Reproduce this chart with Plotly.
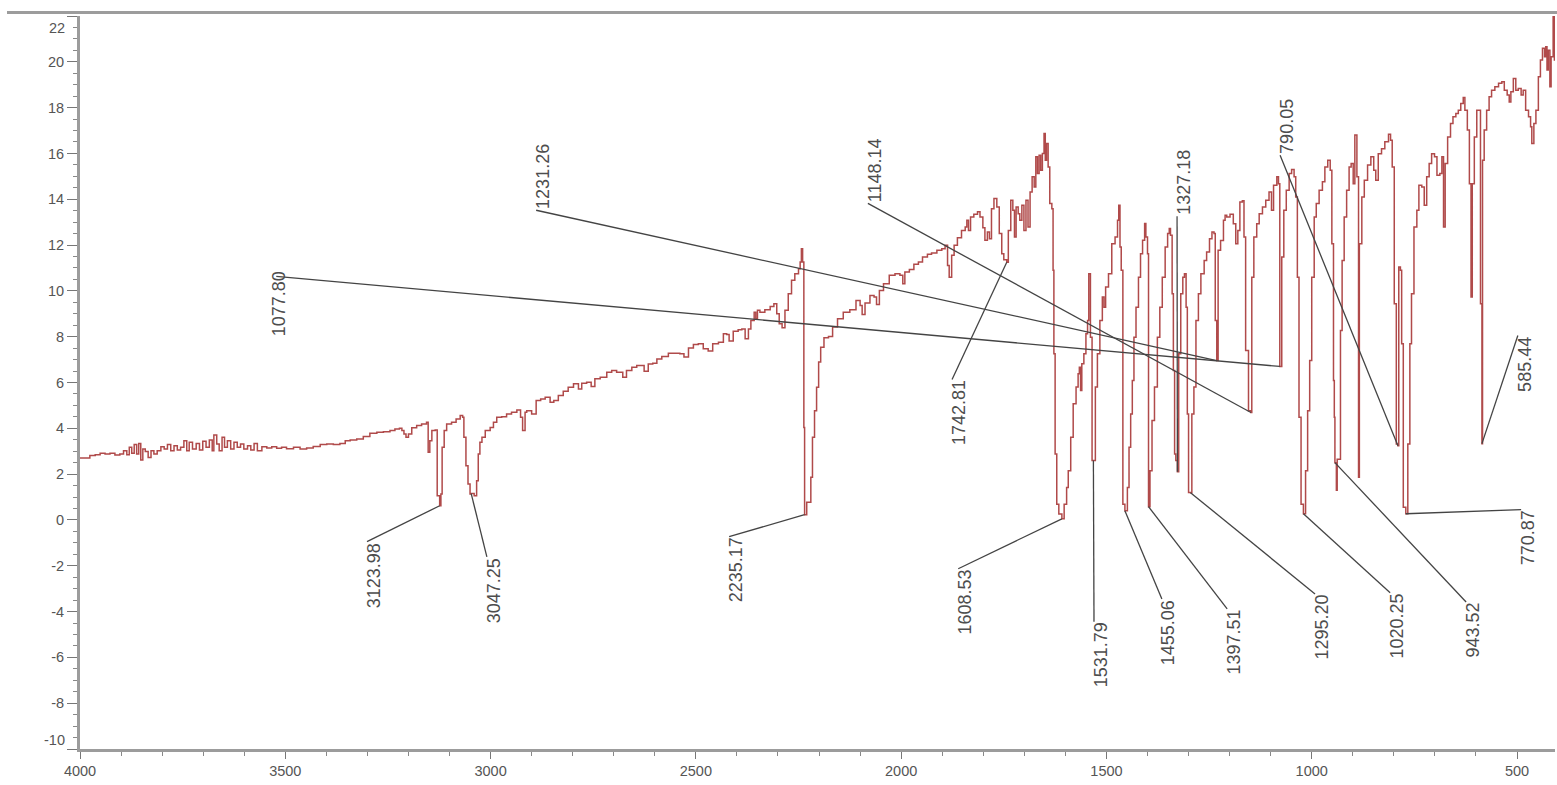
import plotly.graph_objects as go

FONT = "Arial, Liberation Sans, sans-serif"

# IR spectrum: wavenumber (cm-1) and signal
wavenumber = [
    4000, 3988, 3976, 3963, 3951, 3939, 3927, 3915, 3903, 3894, 3886, 3880, 3874, 3868, 3862, 3857,
    3852, 3847, 3841, 3834, 3827, 3820, 3812, 3803, 3795, 3787, 3779, 3771, 3763, 3755, 3747, 3740,
    3734, 3726, 3717, 3709, 3701, 3693, 3685, 3678, 3674, 3667, 3661, 3654, 3648, 3641, 3633, 3625,
    3617, 3609, 3601, 3592, 3584, 3576, 3568, 3557, 3545, 3533, 3521, 3509, 3497, 3480, 3464, 3448,
    3432, 3415, 3399, 3383, 3367, 3354, 3342, 3326, 3310, 3294, 3277, 3261, 3245, 3233, 3222,
    3216, 3211, 3206, 3200, 3192, 3180, 3168, 3156, 3152, 3148, 3143, 3135, 3130, 3123.98, 3121, 3118,
    3113, 3107, 3095, 3084, 3074, 3068, 3065, 3060, 3055, 3050, 3047.25, 3040, 3034, 3030, 3026, 3021,
    3013, 3001, 2993, 2985, 2973, 2961, 2949, 2936, 2927, 2922, 2916, 2912, 2900, 2889, 2878, 2867,
    2855, 2846, 2835, 2823, 2811, 2798, 2786, 2778, 2766, 2755, 2746, 2733, 2717, 2705, 2693, 2678,
    2669, 2656, 2644, 2636, 2626, 2616, 2605, 2595, 2583, 2567, 2551, 2539, 2529, 2518, 2506, 2494,
    2482, 2470, 2459, 2445, 2433, 2425, 2419, 2409, 2397, 2388, 2380, 2372, 2366, 2358, 2354, 2350,
    2344, 2332, 2319, 2310, 2303, 2297, 2290, 2283, 2275, 2267, 2259, 2250, 2246, 2243, 2240, 2237,
    2235.17, 2230, 2224, 2220, 2216, 2211, 2206, 2201, 2196, 2188, 2177, 2167, 2155, 2141, 2125, 2110,
    2100, 2095, 2088, 2076, 2066, 2060, 2053, 2043, 2029, 2015,
    2003, 1996, 1991, 1980, 1969, 1958, 1948, 1936, 1926, 1913, 1901, 1893, 1887, 1883, 1877, 1871,
    1863, 1853, 1844, 1840, 1836, 1831, 1823, 1814, 1808, 1801, 1796, 1790, 1785, 1780, 1774, 1767,
    1761, 1755, 1750, 1742.81, 1739, 1733, 1728, 1724, 1720, 1715, 1711, 1706, 1701, 1696, 1691, 1686,
    1681, 1676, 1672, 1668, 1664, 1660, 1656, 1652, 1649, 1646, 1642, 1638, 1633, 1630, 1628, 1625,
    1621, 1616, 1608.53, 1603, 1597, 1593, 1587, 1581, 1574, 1569, 1566, 1563, 1560, 1555, 1550, 1546,
    1543, 1539, 1535, 1531.79, 1527, 1522, 1516, 1510, 1506, 1502, 1495, 1487, 1479, 1473, 1470, 1467,
    1464, 1460, 1455.06, 1449, 1445, 1441, 1437, 1433, 1428, 1422, 1417, 1412, 1407, 1404, 1400, 1397.51,
    1394, 1389, 1383, 1376, 1370, 1364, 1357, 1351, 1347, 1344, 1340, 1337, 1334, 1331, 1327.18, 1324,
    1319, 1314, 1310, 1306, 1303, 1300, 1295.20, 1292, 1287, 1282, 1276, 1270, 1262, 1256, 1249, 1243,
    1238, 1235, 1231.26, 1228, 1222, 1215, 1211,
    1207, 1199, 1191, 1185, 1180, 1175, 1169, 1165, 1161, 1154, 1148.14, 1146, 1141, 1134, 1128, 1120,
    1112, 1104, 1098, 1093, 1085, 1081, 1077.80, 1073, 1068, 1062, 1055, 1049, 1043, 1039, 1035, 1031,
    1026, 1020.25, 1015, 1010, 1005, 1000, 994, 989, 982, 974, 968, 961, 955, 951, 947, 945,
    943.52, 940, 938, 930, 926, 921, 915, 909, 904, 899, 895, 890, 886, 884, 878, 872,
    864, 856, 849, 844, 838, 830, 822, 813, 808, 804, 799, 794, 790.05, 788, 784, 781,
    777, 770.87, 766, 761, 757, 751, 744, 739, 732, 726, 720, 714, 708, 701, 695, 688,
    683, 679, 675, 669, 662, 656, 649, 643, 637, 631, 627, 621, 616, 612, 609, 604,
    598, 592, 589, 585.44, 584, 580, 574, 568, 562, 554, 545, 537, 531, 524, 519, 515,
    509, 503, 497, 490, 485, 479, 472, 467, 464, 459, 454, 448, 443, 438, 433, 430,
    427, 424, 420, 417, 412, 409, 405,
]

signal = [
    2.70, 2.70, 2.81, 2.85, 2.91, 2.88, 2.91, 2.84, 2.88, 3.02, 2.85, 3.17, 2.91, 3.29, 2.88, 3.34,
    2.62, 3.10, 2.99, 2.73, 3.02, 2.88, 3.02, 3.20, 3.10, 3.29, 3.02, 3.24, 3.05, 3.17, 3.46, 3.02,
    3.39, 3.10, 3.34, 3.05, 3.43, 3.17, 3.49, 3.02, 3.71, 3.32, 3.02, 3.61, 3.17, 3.46, 3.10, 3.39,
    3.17, 3.32, 3.10, 3.24, 3.05, 3.34, 3.02, 3.20, 3.14, 3.20, 3.13, 3.17, 3.11, 3.17, 3.10, 3.14,
    3.21, 3.29, 3.32, 3.29, 3.34, 3.46, 3.49, 3.53, 3.64, 3.78, 3.83, 3.85, 3.90, 3.97, 4.00,
    3.90, 3.75, 3.61, 3.75, 4.02, 4.12, 4.19, 4.26, 2.95, 3.46, 3.90, 3.93, 1.06, 0.62, 1.13, 3.17,
    3.90, 4.19, 4.26, 4.41, 4.56, 4.48, 3.61, 2.37, 1.57, 1.13, 1.15, 1.06, 1.71, 2.88, 3.39, 3.61,
    3.90, 4.04, 4.26, 4.48, 4.51, 4.63, 4.70, 4.80, 4.48, 3.90, 4.70, 4.77, 4.63, 5.21, 5.28, 5.36,
    5.14, 5.21, 5.43, 5.62, 5.79, 5.94, 5.72, 5.97, 6.01, 5.82, 6.16, 6.23, 6.45, 6.52, 6.45, 6.23,
    6.52, 6.67, 6.74, 6.74, 6.49, 6.81, 6.84, 7.03, 7.13, 7.28, 7.28, 7.25, 7.11, 7.51, 7.66, 7.69,
    7.47, 7.37, 7.69, 7.76, 8.13, 8.10, 7.81, 8.24, 8.30, 8.34, 7.91, 8.34, 8.71, 9.07, 8.78, 9.15,
    9.07, 9.18, 9.32, 9.44, 9.00, 8.56, 8.39, 9.15, 9.87, 10.46, 10.75, 10.97, 11.26, 11.84, 11.26, 4.04,
    0.23, 0.77, 0.77, 1.86, 3.61, 4.77, 5.79, 6.89, 7.54, 7.95, 8.01, 8.42, 8.78, 9.07, 9.18, 9.58,
    9.36, 8.97, 9.47, 9.80, 9.73, 9.41, 10.02, 10.31, 10.68, 10.75,
    10.68, 10.31, 10.82, 10.93, 11.16, 11.26, 11.48, 11.60, 11.65, 11.77, 11.84, 11.99, 11.11, 10.60, 11.55, 11.99,
    12.32, 12.64, 12.79, 13.08, 12.64, 13.23, 13.34, 13.45, 13.23, 12.76, 12.21, 12.57, 12.28, 13.59, 14.03, 13.66,
    12.50, 11.62, 11.36, 11.25, 12.64, 13.96, 13.52, 12.35, 13.66, 13.37, 13.08, 13.74, 12.64, 13.96, 12.79, 14.32,
    14.98, 14.54, 15.85, 15.12, 15.92, 15.27, 16.00, 16.87, 15.70, 16.43, 15.41, 13.81, 13.59, 10.90, 7.25, 2.88,
    0.69, 0.26, 0.05, 0.69, 1.42, 2.15, 3.61, 5.07, 5.80, 6.38, 6.67, 5.65, 6.82, 7.25, 8.13, 8.71,
    10.75, 7.98, 2.59, 2.60, 5.80, 7.25, 8.71, 9.73, 9.29, 10.17, 10.75, 12.06, 12.35, 13.08, 13.74, 11.92,
    10.90, 0.69, 0.40, 1.42, 3.17, 4.63, 6.09, 7.98, 9.29, 10.60, 11.62, 12.21, 12.94, 12.35, 11.62, 0.58,
    2.15, 4.34, 5.80, 7.98, 9.29, 10.60, 11.92, 12.50, 12.72, 12.43, 9.87, 6.52, 2.88, 2.59, 2.10, 7.25,
    9.87, 10.60, 10.75, 9.29, 4.63, 1.20, 1.19, 4.63, 5.80, 8.71, 9.87, 10.75, 11.33, 11.70, 12.28, 12.57,
    12.50, 8.71, 6.96, 11.77, 12.20, 13.08, 13.30,
    13.23, 13.34, 12.93, 12.06, 12.64, 13.88, 13.93, 12.35, 7.40, 4.77, 4.69, 10.60, 12.35, 12.93, 13.37, 13.66,
    13.96, 14.32, 13.52, 14.61, 14.98, 14.68, 6.70, 11.48, 13.52, 14.39, 15.12, 15.30, 14.98, 14.10, 10.60, 4.48,
    0.69, 0.27, 2.15, 4.77, 6.96, 10.60, 13.23, 13.81, 14.39, 14.76, 15.41, 15.70, 15.27, 12.06, 6.09, 4.48,
    2.50, 1.30, 2.65, 8.27, 11.33, 13.23, 14.39, 15.41, 15.56, 14.68, 16.80, 14.98, 1.86, 12.06, 14.10, 14.83,
    15.49, 15.85, 15.27, 14.83, 15.99, 16.21, 16.51, 16.84, 16.58, 15.41, 9.44, 3.32, 3.24, 11.04, 10.90, 7.69,
    0.55, 0.27, 3.32, 7.69, 9.87, 12.79, 13.52, 14.61, 14.54, 13.74, 14.98, 15.56, 15.99, 15.85, 15.05, 15.12,
    15.85, 12.79, 15.56, 16.72, 17.31, 17.60, 17.74, 17.89, 18.18, 18.44, 17.89, 17.02, 14.68, 9.73, 14.68, 16.72,
    17.89, 17.89, 9.44, 3.33, 15.70, 17.02, 17.89, 18.47, 18.76, 18.91, 19.06, 19.13, 18.76, 18.55, 18.25, 18.69,
    19.27, 18.76, 18.84, 18.55, 18.76, 17.89, 17.60, 17.16, 16.43, 17.31, 17.89, 19.35, 20.08, 20.59, 20.22, 20.66,
    19.64, 20.51, 18.91, 20.22, 22.50, 20.08, 20.30,
]

# Peak labels and where each label text is anchored
peak_labels = ["3123.98", "3047.25", "2235.17", "1742.81", "1608.53", "1531.79", "1455.06",
               "1397.51", "1327.18", "1295.20", "1231.26", "1148.14", "1077.80", "1020.25",
               "943.52", "790.05", "770.87", "585.44"]
label_wn = [3301, 3009, 2419, 1876, 1861, 1530.3, 1365, 1206, 1328, 992, 2889, 2081, 3522,
            809, 624, 1077, 490, 498]
label_val = [-0.95, -1.61, -0.73, 6.13, -2.13, -4.45, -3.45, -3.88, 13.26, -3.23, 13.52, 13.82,
             10.63, -3.18, -3.58, 15.92, 0.45, 8.05]
label_side = ["below", "below", "below", "below", "below", "below", "below", "below", "above",
              "below", "above", "above", "below", "below", "below", "above", "below", "below"]
# pixel nudges of the label text relative to its leader-line end
label_dx = [-4, -4, -4, -4, -4, -4, -4, -4, -4, -4, -4, -4, -8, -4, -4, -4, -4, -4]
label_dy = [0, 0, 0, 0, 0, 0, 0, 0, 0, 0, 0, 0, 6, 0, 0, 0, 0, 0]

x_ticks = [4000, 3500, 3000, 2500, 2000, 1500, 1000, 500]
y_ticks = [-10, -8, -6, -4, -2, 0, 2, 4, 6, 8, 10, 12, 14, 16, 18, 20, 22]

fig = go.Figure()
fig.add_trace(go.Scatter(
    x=wavenumber, y=signal, mode="lines",
    line=dict(color="#b04a4a", width=1.5, shape="hv"),
    hoverinfo="skip", showlegend=False,
))

for lab, lx, ly, side, dx, dy in zip(peak_labels, label_wn, label_val, label_side,
                                     label_dx, label_dy):
    pw = float(lab)
    pv = signal[wavenumber.index(pw)]
    fig.add_shape(type="line", xref="x", yref="y", x0=lx, y0=ly, x1=pw, y1=pv,
                  line=dict(color="#444444", width=1.3))
    fig.add_annotation(
        x=lx, y=ly, xref="x", yref="y", text=lab, textangle=-90, showarrow=False,
        xanchor="left", yanchor="top" if side == "below" else "bottom",
        xshift=dx, yshift=dy,
        font=dict(family=FONT, size=18, color="#4d4d4d"), borderpad=0,
    )

# top frame line
fig.add_shape(type="line", xref="paper", yref="paper",
              x0=-73 / 1475, x1=1 + 2 / 1475, y0=1 + 3.5 / 733, y1=1 + 3.5 / 733,
              line=dict(color="#9c9c9c", width=3))

# end labels of the value axis sit inside the axis span
for v, dy in ((22, -12), (-10, 9)):
    fig.add_annotation(x=0, xref="paper", y=v, yref="y", text=str(v), showarrow=False,
                       xanchor="right", xshift=-13, yshift=dy,
                       font=dict(family=FONT, size=14.5, color="#555555"))

fig.update_layout(
    width=1557, height=785,
    margin=dict(l=80, r=2, t=16, b=36),
    plot_bgcolor="white", paper_bgcolor="white",
    showlegend=False,
    font=dict(family=FONT, size=14.5, color="#555555"),
)
fig.update_xaxes(
    range=[4000, 407.5], tickmode="array", tickvals=x_ticks,
    ticktext=[str(v) for v in x_ticks],
    ticks="outside", ticklen=7, tickwidth=1, tickcolor="#777777",
    showline=True, linecolor="#9c9c9c", linewidth=3,
    showgrid=False, zeroline=False,
    minor=dict(tickmode="linear", tick0=0, dtick=100, ticks="outside", ticklen=4,
               tickcolor="#888888", showgrid=False),
    tickfont=dict(family=FONT, size=14.5, color="#555555"),
)
fig.update_yaxes(
    range=[-10, 22], tickmode="array", tickvals=y_ticks,
    ticktext=["" if v in (22, -10) else str(v) for v in y_ticks],
    ticks="outside", ticklen=10, tickwidth=1, tickcolor="#777777",
    showline=True, linecolor="#9c9c9c", linewidth=3,
    showgrid=False, zeroline=False,
    minor=dict(tickmode="linear", tick0=0, dtick=0.5, ticks="outside", ticklen=4,
               tickcolor="#888888", showgrid=False),
    tickfont=dict(family=FONT, size=14.5, color="#555555"),
)

fig.write_html("out.html")
